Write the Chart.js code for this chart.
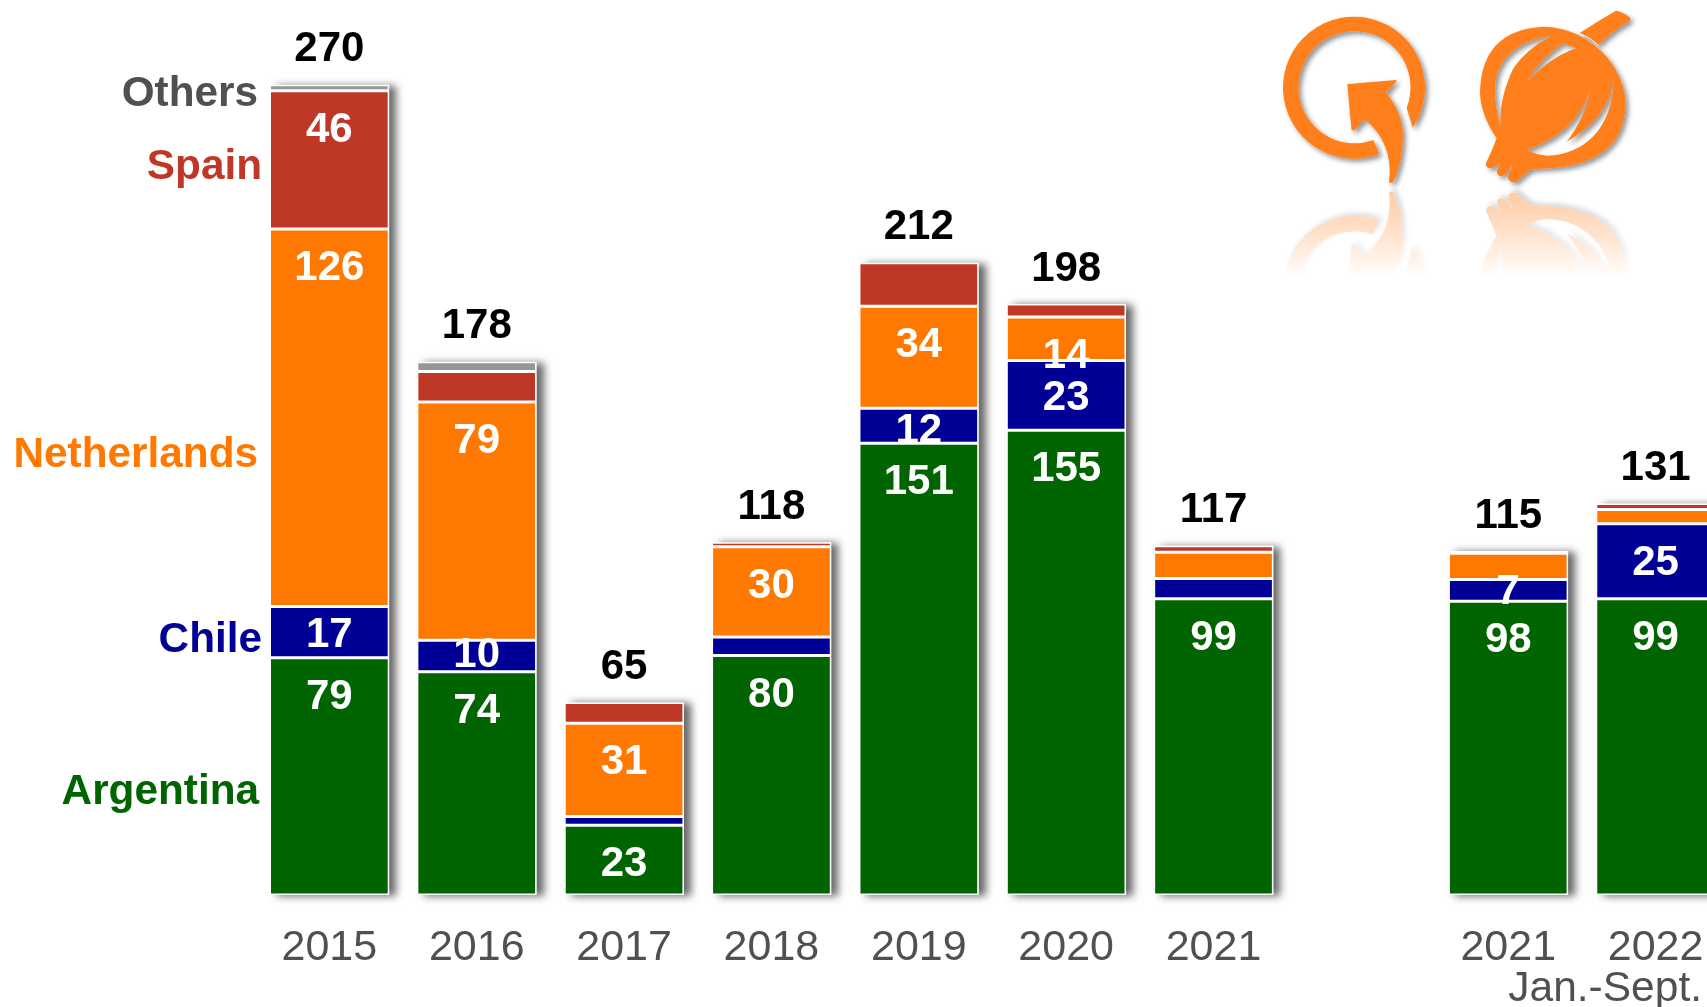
<!DOCTYPE html>
<html><head><meta charset="utf-8">
<style>
html,body{margin:0;padding:0;background:#fff;overflow:hidden;width:1707px;height:1007px}
#wrap{position:relative;width:1707px;height:1007px;overflow:hidden}
canvas{position:absolute;left:0;top:0}
#icons{position:absolute;left:1250px;top:0}
</style>
<script src="https://cdn.jsdelivr.net/npm/chart.js@4/dist/chart.umd.min.js"></script>
</head><body>
<div id="wrap">
<canvas id="c"></canvas>
<svg id="icons" width="457" height="300" viewBox="0 0 1371 900">
<defs>
<filter id="sh" x="-20%" y="-20%" width="150%" height="150%"><feDropShadow dx="9" dy="9" stdDeviation="8" flood-color="#000" flood-opacity=".42"/></filter>
<linearGradient id="fade" gradientUnits="userSpaceOnUse" x1="0" y1="570" x2="0" y2="835"><stop offset="0" stop-color="#fff" stop-opacity=".42"/><stop offset=".55" stop-color="#fff" stop-opacity=".2"/><stop offset="1" stop-color="#fff" stop-opacity="0"/></linearGradient>
<mask id="m" maskUnits="userSpaceOnUse" x="0" y="560" width="1371" height="340"><rect x="0" y="560" width="1371" height="340" fill="url(#fade)"/></mask>
<g id="ic" fill="#FF7F1A">
<path d="M488 383A213 213 0 1 0 388 462L370 420A168 168 0 1 1 470 323Z"/>
<path d="M292 255Q292 252 295 252L438 240Q442 242 438 246L408 279Q458 335 459 410Q458 490 428 548L417 548Q432 430 344 357L314 390Q306 395 304 386Z"/>
<path d="M988 100Q1040 65 1098 32Q1110 32 1138 50Q1146 60 1130 68Q1085 95 1045 135Q1020 110 988 100Z"/>
<path fill-rule="evenodd" d="M740 415Q690 340 690 275Q695 90 880 80Q990 82 1070 170Q1127 240 1127 320Q1115 490 900 505Q860 505 840 510Q815 530 800 545L785 546Q770 540 775 525L790 492L765 525Q745 535 740 515L750 490L725 505Q705 505 708 490L730 440Z
M905 107C810 120 735 170 735 270Q735 320 752 385Q745 300 790 205Q830 145 905 107Z
M828 250Q870 175 938 130L980 145Q900 170 828 250Z
M1022 265Q985 395 830 450Q860 465 892 467C1000 465 1090 385 1090 240Q1075 355 950 425Q1005 355 1022 265Z"/>
<path d="M990 100Q1020 110 1045 135" fill="none" stroke="#d8d8d8" stroke-width="3"/>
</g>
</defs>
<use href="#ic" filter="url(#sh)"/>
<g mask="url(#m)"><use href="#ic" filter="url(#sh)" transform="translate(0,1124) scale(1,-1)"/></g>
</svg>
</div>
<script>
const categories = ['2015','2016','2017','2018','2019','2020','2021','','2021','2022'];
const argentina   = [79,74.3,23.2,79.7,150.4,154.7,98.6,null,97.8,98.6];
const chile       = [17,10.5,2.9,6.2,11.6,23.2,6.8,null,7.2,25];
const netherlands = [125.7,79.3,31.1,30,34,14.5,8.7,null,8.8,4.7];
const spain       = [46,10.2,6.9,1.5,14.5,4.3,2.2,null,0.7,2];
const others      = [2,3.2,0,0,0,0,0,null,0,0];
const totals      = [270,178,65,118,212,198,117,null,115,131];
const argentinaLabels   = [79,74,23,80,151,155,99,null,98,99];
const chileLabels       = [17,10,null,null,12,23,null,null,7,25];
const netherlandsLabels = [126,79,31,30,34,14,null,null,null,null];
const spainLabels       = [46,null,null,null,null,null,null,null,null,null];
const seriesNames = ['Argentina','Chile','Netherlands','Spain','Others'];
const seriesColors = ['#006400','#000096','#FF7900','#BE3727','#969696'];
const seriesValues = [argentina,chile,netherlands,spain,others];
const seriesLabels = [argentinaLabels,chileLabels,netherlandsLabels,spainLabels,null];

const FONT = '"Liberation Sans", Arial, sans-serif';
const W = 1731, H = 1007, BASE = 895;
const nameAnchors = [[259,792],[262,640],[258,455],[262,167],[258,94]];
const chileOffsets = {0:28.5,1:15.5,4:23.5,5:37.5,8:12.5};

const canvas = document.getElementById('c');
canvas.width = W; canvas.height = H;
canvas.style.width = W+'px'; canvas.style.height = H+'px';

const decor = {
  id:'decor',
  beforeDatasetsDraw(ch){
    const c = ch.ctx, bottom = ch.getDatasetMeta(0).data, top = ch.getDatasetMeta(4).data;
    c.save();
    c.shadowColor = 'rgba(0,0,0,.6)'; c.shadowBlur = 8; c.shadowOffsetX = 7; c.shadowOffsetY = 1;
    c.fillStyle = '#fff';
    bottom.forEach((b,i)=>{
      if (argentina[i]==null) return;
      const t = top[i];
      c.fillRect(b.x-b.width/2, t.y, b.width, b.base-t.y);
    });
    c.restore();
  },
  afterDatasetsDraw(ch){
    const c = ch.ctx;
    c.save();
    c.textAlign='center'; c.textBaseline='middle';
    c.font = 'bold 42px '+FONT;
    const meta = i=>ch.getDatasetMeta(i).data;
    seriesLabels.forEach((arr,si)=>{
      if(!arr) return;
      arr.forEach((v,i)=>{
        if(v==null) return;
        const el = meta(si)[i];
        const off = si===1 && chileOffsets[i]!==undefined ? chileOffsets[i] : 39.5;
        c.save();
        if(si===1 && i===4){ c.beginPath(); c.rect(el.x-el.width/2,el.y,el.width,el.base-el.y-1); c.clip(); }
        c.fillStyle='#fff';
        c.fillText(String(v), el.x, el.y+off);
        c.restore();
      });
    });
    c.fillStyle='#000';
    totals.forEach((v,i)=>{
      if(v==null) return;
      const el = meta(4)[i];
      c.fillText(String(v), el.x, el.y-35);
    });
    c.textAlign='right';
    c.font = 'bold 42.3px '+FONT;
    seriesNames.forEach((n,i)=>{
      c.fillStyle = i===4 ? '#505050' : seriesColors[i];
      c.fillText(n, nameAnchors[i][0], nameAnchors[i][1]);
    });
    c.font = '42.5px '+FONT;
    c.fillStyle='#505050';
    c.fillText('Jan.-Sept.', 1702, 989);
    c.restore();
  }
};

new Chart(canvas,{
  type:'bar',
  data:{labels:categories,datasets:seriesNames.map((n,i)=>({
    label:n,data:seriesValues[i],backgroundColor:seriesColors[i],
    borderColor:'#fff',borderWidth:1.5,borderSkipped:false,
    barPercentage:.8123,categoryPercentage:1
  }))},
  options:{
    responsive:false,animation:false,devicePixelRatio:1,
    layout:{padding:{left:255.67,right:W-1729.3,top:0,bottom:0}},
    plugins:{legend:{display:false},tooltip:{enabled:false}},
    scales:{
      x:{stacked:true,offset:true,grid:{display:false},border:{display:false},
        afterFit(s){s.height=H-BASE;},
        ticks:{autoSkip:false,maxRotation:0,minRotation:0,padding:19,color:'#505050',font:{family:FONT,size:43}}},
      y:{stacked:true,display:false,min:0,max:BASE/3.004}
    }
  },
  plugins:[decor]
});
</script>
</body></html>
